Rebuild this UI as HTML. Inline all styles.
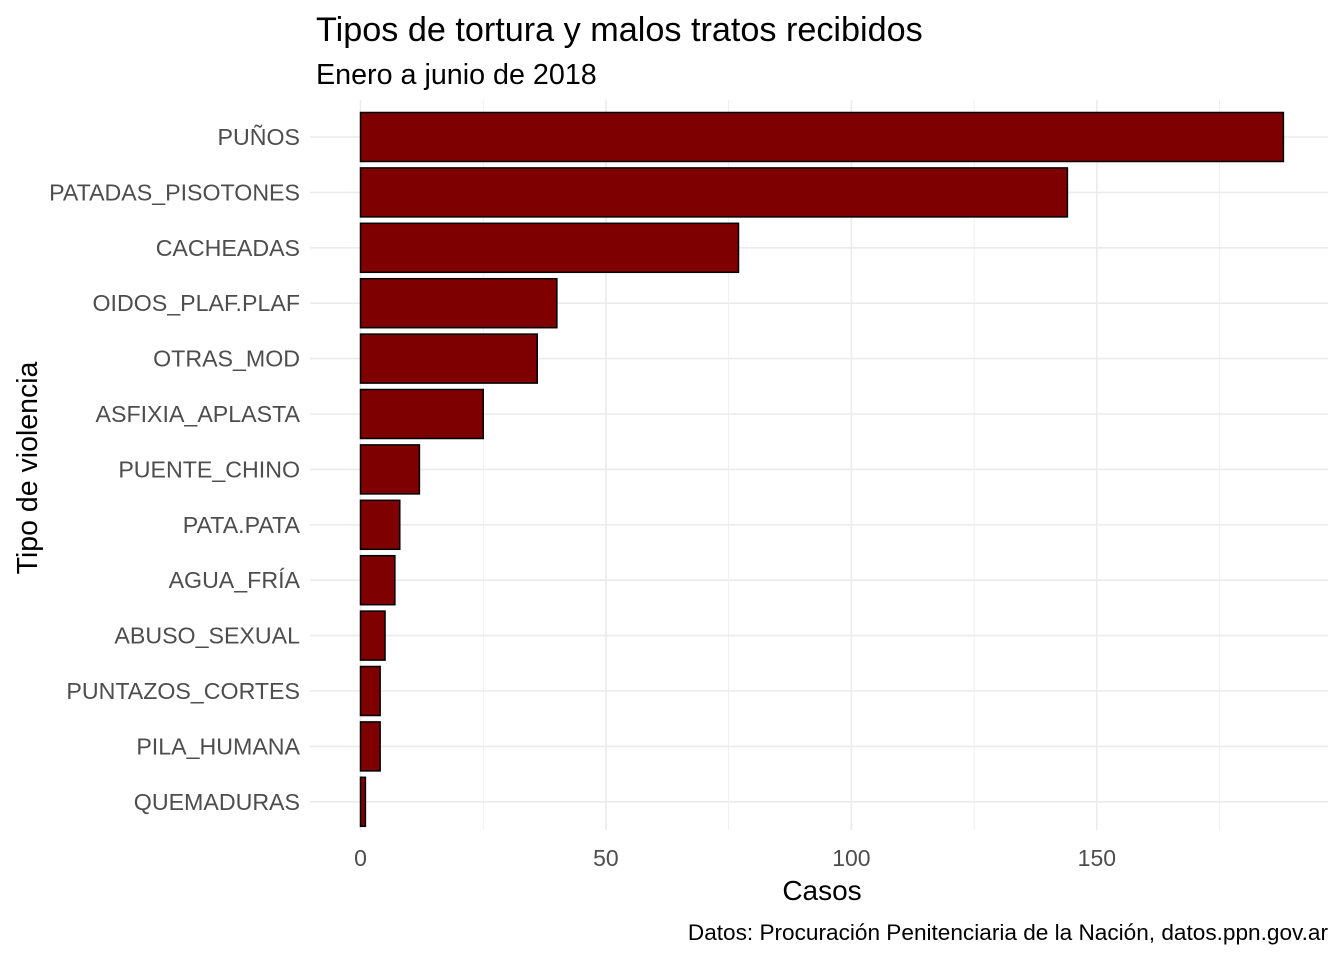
<!DOCTYPE html>
<html><head><meta charset="utf-8"><style>
body{margin:0;background:#fff;font-family:"Liberation Sans",Arial,sans-serif}
</style></head><body>
<svg width="1344" height="960" xmlns="http://www.w3.org/2000/svg" style="font-family:'Liberation Sans',Arial,sans-serif">
<text x="316" y="41" font-size="34.2" fill="#000">Tipos de tortura y malos tratos recibidos</text>
<text x="316" y="84" font-size="28.7" fill="#000">Enero a junio de 2018</text>
<g id="grid"></g><g id="bars"></g><g id="ylab"></g><g id="xlab"></g>
<text x="822" y="900" font-size="28" text-anchor="middle" fill="#000">Casos</text>
<text transform="translate(37,468) rotate(-90)" font-size="28.5" text-anchor="middle" fill="#000">Tipo de violencia</text>
<text x="1328" y="940" font-size="22.6" text-anchor="end" fill="#000">Datos: Procuración Penitenciaria de la Nación, datos.ppn.gov.ar</text>
</svg>
<script>
const categories=["PUÑOS","PATADAS_PISOTONES","CACHEADAS","OIDOS_PLAF.PLAF","OTRAS_MOD","ASFIXIA_APLASTA","PUENTE_CHINO","PATA.PATA","AGUA_FRÍA","ABUSO_SEXUAL","PUNTAZOS_CORTES","PILA_HUMANA","QUEMADURAS"];
const values=[188,144,77,40,36,25,12,8,7,5,4,4,1];
const ticks=[0,50,100,150];
const NS="http://www.w3.org/2000/svg";
const x=v=>360.5+v*4.909;
const y=i=>137+i*55.4;
const pTop=100,pBot=830,pL=310,pR=1328;
function mk(tag,attrs,parent){const e=document.createElementNS(NS,tag);for(const k in attrs)e.setAttribute(k,attrs[k]);document.getElementById(parent).appendChild(e);return e;}
const grid=[];for(let t=0;t<=175;t+=25)grid.push(t);
grid.forEach(t=>{const l=mk('line',{x1:x(t),x2:x(t),y1:pTop,y2:pBot,stroke:'#ebebeb','stroke-width':t%50===0?1.6:0.8},'grid');

});
categories.forEach((c,i)=>{const l=mk('line',{x1:pL,x2:pR,y1:y(i),y2:y(i),stroke:'#ebebeb','stroke-width':1.6},'grid');


const r=mk('rect',{x:x(0),y:y(i)-24.5,width:x(values[i])-x(0),height:49,fill:'#7f0000',stroke:'#000','stroke-width':1.5},'bars');


const t=mk('text',{x:300,y:y(i)+8,'font-size':23.2,'text-anchor':'end',fill:'#4d4d4d'},'ylab');t.textContent=c;

});
ticks.forEach(v=>{const t=mk('text',{x:x(v),y:866,'font-size':23,'text-anchor':'middle',fill:'#4d4d4d'},'xlab');t.textContent=v;

});
</script>
</body></html>
